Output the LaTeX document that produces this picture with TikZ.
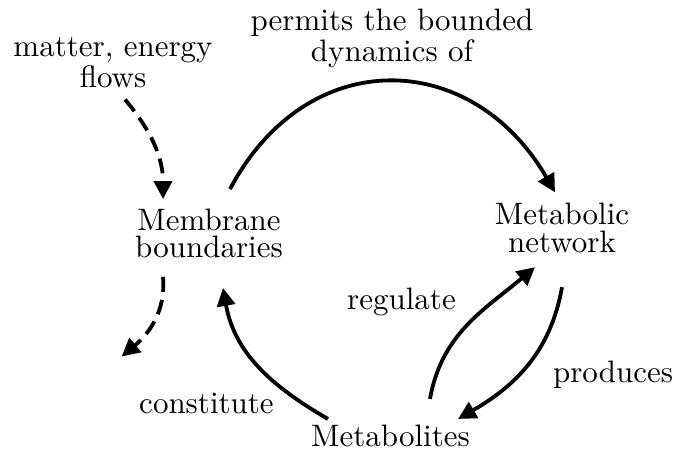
\documentclass[tikz,border=0pt]{standalone}
\usepackage{tikz}
\usetikzlibrary{arrows.meta}

\begin{document}
\begin{tikzpicture}[x=0.5pt,y=-0.5pt,
    every node/.style={inner sep=0pt,align=center,scale=1.55,font=\fontsize{10}{8.8}\selectfont},
    flow/.style={line width=1.9pt,-{Triangle[length=9pt,width=9pt]}},
    dashflow/.style={flow,dash pattern=on 7.5pt off 4pt}]
        \useasboundingbox (0,0) rectangle (673,459);
        % main nodes
        \node (matter) at (113,62.5) {matter, energy\\flows};
        \node (membrane) at (209,233.75) {Membrane\\boundaries};
        \node (network) at (562,228) {Metabolic\\network};
        \node (metabolites) at (390.5,436) {Metabolites};
        % labels
        \node (permits) at (392,38.75) {permits the bounded\\dynamics of};
        \node (regulate) at (401.5,302) {regulate};
        \node (produces) at (613,375) {produces};
        \node (constitute) at (206.5,403.5) {constitute};
        % flows in and out of the boundary
        \draw[dashflow] ([shift={(6pt,-5.5pt)}]matter.south) to[out=-50,in=90]
              ([shift={(-23pt,4.75pt)}]membrane.north);
        \draw[dashflow] ([shift={(-23pt,-9pt)}]membrane.south) to[out=-85,in=40]
              ([shift={(-8.5pt,18pt)}]constitute.north west);
        % the cycle
        \draw[flow] ([shift={(10.5pt,9.75pt)}]membrane.north) to[out=62,in=120,looseness=1.3]
              ([shift={(-3.5pt,5.25pt)}]network.north);
        \draw[flow] ([yshift=-17pt]network.south) to[out=-100,in=30]
              ([shift={(33.75pt,2.75pt)}]metabolites.north);
        \draw[flow] ([shift={(19.75pt,12.75pt)}]metabolites.north) to[out=80,in=220]
              ([shift={(-13.5pt,-7pt)}]network.south);
        \draw[flow] ([shift={(-31.25pt,2.75pt)}]metabolites.north) to[out=150,in=-80]
              ([shift={(7pt,-14.5pt)}]membrane.south);
      \end{tikzpicture}
\end{document}
